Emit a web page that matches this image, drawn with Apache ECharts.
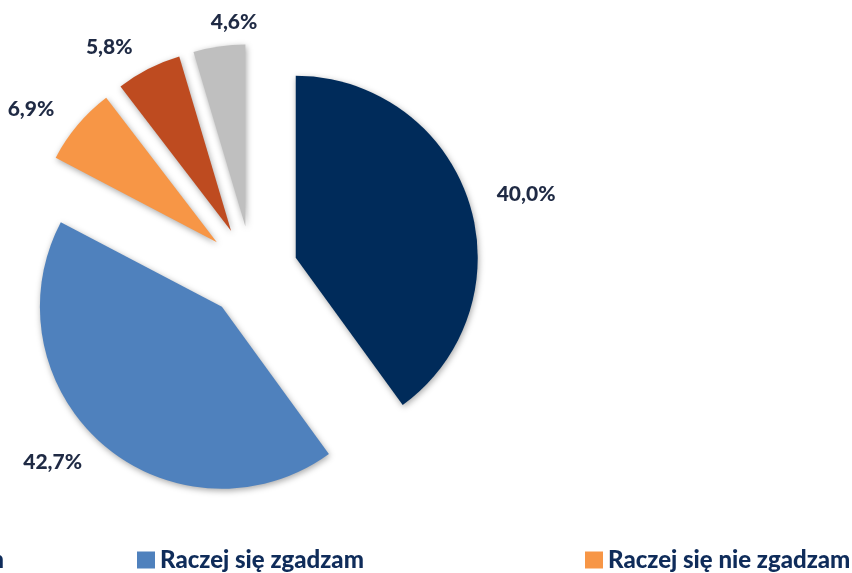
<!DOCTYPE html>
<html><head><meta charset="utf-8">
<script src="https://cdn.jsdelivr.net/npm/echarts@6/dist/echarts.min.js"></script>
<style>html,body{margin:0;padding:0;background:#fff}#c{width:852px;height:573px}</style>
</head><body><div id="c"></div>
<script>
const categories = ["Zdecydowanie się zgadzam", "Raczej się zgadzam", "Raczej się nie zgadzam", "Zdecydowanie się nie zgadzam", "Trudno powiedzieć"];
const values = [40.0, 42.7, 6.9, 5.8, 4.6];
const colors = ["#002b5a", "#4f81bd", "#f79646", "#be4b20", "#bfbfbf"];

const legendPos = [{ right: 843 }, { left: 132 }, { left: 580 }, { left: 1027 }, { left: 1474 }];
const legendText = { fontFamily: 'Lato', fontWeight: 900, fontSize: 24, color: '#0f2c5a' };

const chart = echarts.init(document.getElementById('c'));
chart.setOption({
  backgroundColor: '#fff',
  animation: false,
  legend: categories.map((n, i) => Object.assign({
    top: 543, itemWidth: 18, itemHeight: 17, itemGap: 0,
    icon: 'rect', data: [n], selectedMode: false,
    textStyle: legendText
  }, legendPos[i])),
  series: [{
    type: 'pie',
    center: [252, 272],
    radius: 182,
    startAngle: 90,
    clockwise: true,
    selectedMode: 'multiple',
    selectedOffset: 46,
    avoidLabelOverlap: false,
    emphasis: { disabled: true },
    itemStyle: { shadowBlur: 6, shadowColor: 'rgba(0,0,0,0.35)', shadowOffsetX: 1, shadowOffsetY: 2 },
    label: {
      show: true, position: 'outside',
      fontFamily: 'Lato', fontWeight: 900, fontSize: 21, color: '#1f2a44',
      formatter: p => p.value.toFixed(1).replace('.', ',') + '%'
    },
    labelLine: { show: false, length: 24, length2: 0 },
    labelLayout: p => (p.dataIndex === 4 ? { align: 'left' } : {}),
    data: categories.map((n, i) => ({
      name: n, value: values[i], selected: true,
      itemStyle: { color: colors[i] }
    }))
  }]
});
</script></body></html>
